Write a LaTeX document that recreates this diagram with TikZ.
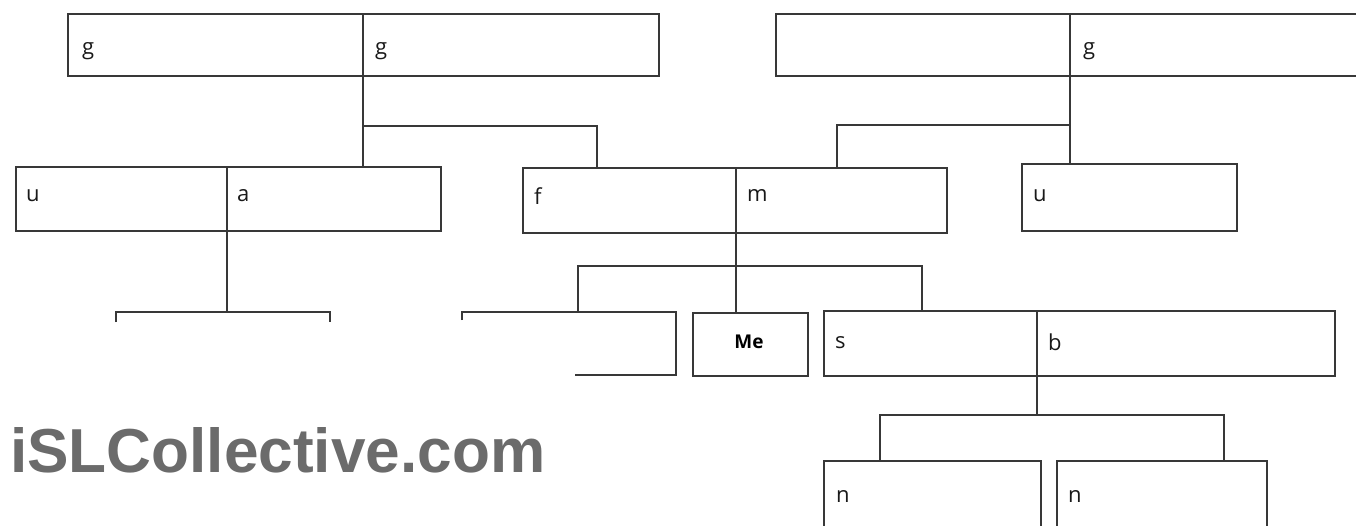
\documentclass[tikz,border=0pt]{standalone}
\usepackage{fontspec}
\setmainfont{Open Sans}
\newfontfamily\wmfont{Liberation Sans}
\tikzset{
  ln/.style={draw=black!78, line width=1.6pt},
  box/.style={ln, rectangle, inner sep=0pt, anchor=north west},
  lbl/.style={anchor=west, inner sep=0pt, font=\fontsize{22}{25}\selectfont, text=black!90},
}
\begin{document}
\begin{tikzpicture}[x=1pt,y=-1pt]
\useasboundingbox[fill=white] (0,0) rectangle (1356,525);
% top boxes
\node[box, minimum width=591pt, minimum height=62pt] (tl) at (67,13) {};
\node[box, minimum width=600pt, minimum height=62pt] (tr) at (775,13) {};
\coordinate (tlda) at (363,13);
\coordinate (tldb) at (363,75);
\draw[ln] (tlda) -- (tldb);
\coordinate (trda) at (1070,13);
\coordinate (trdb) at (1070,75);
\draw[ln] (trda) -- (trdb);
\node[lbl] (tl1) at (82,51) {g};
\node[lbl] (tl2) at (375,51) {g};
\node[lbl] (tr2) at (1083,51) {g};
% row 2
\node[box, minimum width=425pt, minimum height=64pt] (ua) at (15,166) {};
\node[box, minimum width=424pt, minimum height=65pt] (fm) at (522,167) {};
\node[box, minimum width=215pt, minimum height=67pt] (ur) at (1021,163) {};
\coordinate (uada) at (227,166);
\coordinate (uadb) at (227,230);
\draw[ln] (uada) -- (uadb);
\coordinate (fmda) at (736,167);
\coordinate (fmdb) at (736,232);
\draw[ln] (fmda) -- (fmdb);
\node[lbl] (u1) at (26,196) {u};
\node[lbl] (a1) at (237,196) {a};
\node[lbl] (f1) at (534,196) {f};
\node[lbl] (m1) at (747,196) {m};
\node[lbl] (u2) at (1033,196) {u};
% row 3
\node[box, minimum width=115pt, minimum height=63pt] (me) at (692,312) {};
\node[font=\bfseries\fontsize{19}{22}\selectfont, inner sep=0pt] (metxt) at (749,342) {Me};
\node[box, minimum width=511pt, minimum height=65pt] (sb) at (823,310) {};
\coordinate (sbda) at (1037,310);
\coordinate (sbdb) at (1037,375);
\draw[ln] (sbda) -- (sbdb);
\node[lbl] (s1) at (835,343) {s};
\node[lbl] (b1) at (1048,342) {b};
% partial boxes
\coordinate (p1a) at (116,322);
\coordinate (p1b) at (116,312);
\coordinate (p1c) at (330,312);
\coordinate (p1d) at (330,322);
\draw[ln] (p1a) -- (p1b) -- (p1c) -- (p1d);
\coordinate (p2a) at (462,320);
\coordinate (p2b) at (462,312);
\coordinate (p2c) at (676,312);
\coordinate (p2d) at (676,375);
\coordinate (p2e) at (575,375);
\draw[ln] (p2a) -- (p2b) -- (p2c) -- (p2d) -- (p2e);
% row 4
\node[box, minimum width=217pt, minimum height=75pt] (n1) at (823,460) {};
\node[box, minimum width=210pt, minimum height=75pt] (n2) at (1056,460) {};
\node[lbl] (n1t) at (836,496) {n};
\node[lbl] (n2t) at (1068,496) {n};
% connectors
\draw[ln] (tldb) -- (363,166);
\coordinate (j1) at (363,126);
\draw[ln] (j1) -- (597,126) -- (597,167);
\draw[ln] (trdb) -- (1070,163);
\coordinate (j2) at (1070,125);
\draw[ln] (j2) -- (837,125) -- (837,167);
\draw[ln] (uadb) -- (227,312);
\draw[ln] (fmdb) -- (736,312);
\coordinate (j3) at (736,266);
\draw[ln] (578,312) -- (578,266) -- (922,266) -- (922,310);
\draw[ln] (sbdb) -- (1037,415);
\draw[ln] (880,460) -- (880,415) -- (1224,415) -- (1224,460);
% watermark
\node[anchor=west, inner sep=0pt, text=black!58] (wm) at (10,450) {\resizebox{535pt}{!}{\wmfont\bfseries iSLCollective.com}};
\end{tikzpicture}
\end{document}
